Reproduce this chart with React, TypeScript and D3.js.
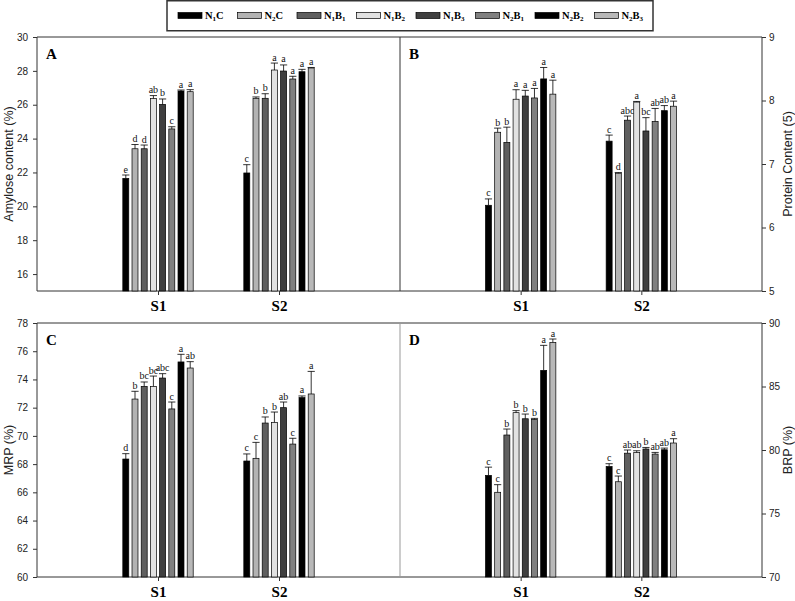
import React, { useEffect, useRef } from 'react';
import * as d3 from 'd3';

const categories = ['S1', 'S2'];
const treatments = ['N1C', 'N2C', 'N1B1', 'N1B2', 'N1B3', 'N2B1', 'N2B2', 'N2B3'];
const fills = ['#000000', '#b3b3b3', '#5f5f5f', '#e2e2e2', '#3f3f3f', '#808080', '#000000', '#b8b8b8'];

// A: amylose content (%)
const amyloseS1 = [21.65, 23.4, 23.4, 26.36, 26.02, 24.57, 26.81, 26.77];
const amyloseS2 = [21.97, 26.38, 26.38, 28.05, 27.99, 27.52, 27.95, 28.17];
const amyloseErrS1 = [0.2, 0.25, 0.22, 0.18, 0.32, 0.13, 0.06, 0.12];
const amyloseErrS2 = [0.49, 0.08, 0.27, 0.41, 0.36, 0.16, 0.14, 0.03];
const amyloseLetS1 = ['e', 'd', 'd', 'ab', 'b', 'c', 'a', 'a'];
const amyloseLetS2 = ['c', 'b', 'b', 'a', 'a', 'a', 'a', 'a'];

// B: protein content
const proteinS1 = [6.35, 7.5, 7.34, 8.02, 8.07, 8.04, 8.34, 8.1];
const proteinS2 = [7.36, 6.855, 7.69, 7.975, 7.52, 7.67, 7.84, 7.91];
const proteinErrS1 = [0.1, 0.065, 0.24, 0.15, 0.09, 0.15, 0.18, 0.22];
const proteinErrS2 = [0.095, 0.01, 0.065, 0.01, 0.21, 0.205, 0.08, 0.08];
const proteinLetS1 = ['c', 'b', 'b', 'a', 'a', 'a', 'a', 'a'];
const proteinLetS2 = ['c', 'd', 'abc', 'a', 'bc', 'ab', 'ab', 'a'];

// C: MRP (%)
const mrpS1 = [68.36, 72.61, 73.51, 73.51, 74.1, 71.91, 75.24, 74.81];
const mrpS2 = [68.22, 68.41, 70.91, 70.96, 72.0, 69.42, 72.71, 72.97];
const mrpErrS1 = [0.38, 0.55, 0.31, 0.73, 0.31, 0.49, 0.54, 0.45];
const mrpErrS2 = [0.5, 1.13, 0.43, 0.73, 0.4, 0.41, 0.12, 1.6];
const mrpLetS1 = ['d', 'b', 'bc', 'bc', 'abc', 'c', 'a', 'ab'];
const mrpLetS2 = ['c', 'c', 'b', 'b', 'ab', 'c', 'a', 'a'];

// D: BRP (%)
const brpS1 = [78.0, 76.67, 81.18, 82.94, 82.46, 82.41, 86.27, 88.47];
const brpS2 = [78.7, 77.5, 79.75, 79.8, 80.08, 79.68, 80.02, 80.55];
const brpErrS1 = [0.65, 0.6, 0.47, 0.16, 0.37, 0.08, 1.97, 0.27];
const brpErrS2 = [0.22, 0.45, 0.25, 0.14, 0.12, 0.13, 0.13, 0.34];
const brpLetS1 = ['c', 'c', 'b', 'b', 'b', 'b', 'a', 'a'];
const brpLetS2 = ['c', 'c', 'ab', 'ab', 'b', 'ab', 'ab', 'a'];

const SANS = '"Liberation Sans", Arial, sans-serif';
const SERIF = '"Liberation Serif", "Times New Roman", serif';

interface Panel {
  tag: string;
  title: string;
  side: 'left' | 'right';
  box: [number, number, number, number];
  domain: [number, number];
  ticks: number[];
  means: number[][];
  errs: number[][];
  letters: string[][];
  titleX: number;
}

const panels: Panel[] = [
  { tag: 'A', title: 'Amylose content (%)', side: 'left', box: [37, 400, 37, 291], domain: [15, 30],
    ticks: d3.range(16, 31, 2), means: [amyloseS1, amyloseS2], errs: [amyloseErrS1, amyloseErrS2],
    letters: [amyloseLetS1, amyloseLetS2], titleX: 9 },
  { tag: 'B', title: 'Protein Content (5)', side: 'right', box: [400, 762, 37, 291], domain: [5, 9],
    ticks: d3.range(5, 10, 1), means: [proteinS1, proteinS2], errs: [proteinErrS1, proteinErrS2],
    letters: [proteinLetS1, proteinLetS2], titleX: 788 },
  { tag: 'C', title: 'MRP (%)', side: 'left', box: [37, 400, 323, 577], domain: [60, 78],
    ticks: d3.range(60, 79, 2), means: [mrpS1, mrpS2], errs: [mrpErrS1, mrpErrS2],
    letters: [mrpLetS1, mrpLetS2], titleX: 9 },
  { tag: 'D', title: 'BRP (%)', side: 'right', box: [400, 762, 323, 577], domain: [70, 90],
    ticks: d3.range(70, 91, 5), means: [brpS1, brpS2], errs: [brpErrS1, brpErrS2],
    letters: [brpLetS1, brpLetS2], titleX: 788 },
];

export default function App() {
  const ref = useRef<SVGSVGElement>(null);

  useEffect(() => {
    if (!ref.current) return;
    const svg = d3.select(ref.current);
    svg.selectAll('*').remove();

    panels.forEach((p) => {
      const [x0, x1, y0, y1] = p.box;
      const g = svg.append('g');
      const x = d3.scalePoint<string>().domain(categories).range([x0, x1]).padding(1);
      const y = d3.scaleLinear().domain(p.domain).range([y1, y0]);
      const band = d3.scaleBand<string>().domain(treatments).range([-36.8, 36.8])
        .paddingInner(0.35).paddingOuter(0.175);

      // frame: top, bottom and the value-axis side
      g.append('line').attr('x1', x0).attr('x2', x1).attr('y1', y0).attr('y2', y0).attr('stroke', '#333');
      g.append('line').attr('x1', x0).attr('x2', x1).attr('y1', y1).attr('y2', y1).attr('stroke', '#333');
      const ax = p.side === 'left' ? x0 : x1;
      g.append('line').attr('x1', ax).attr('x2', ax).attr('y1', y0).attr('y2', y1).attr('stroke', '#333');

      // value axis
      const yAxis = (p.side === 'left' ? d3.axisLeft(y) : d3.axisRight(y))
        .tickValues(p.ticks).tickSize(4).tickPadding(p.side === 'left' ? 5 : 3).tickFormat(d3.format('d'));
      const ya = g.append('g').attr('transform', `translate(${ax},0)`).call(yAxis);
      ya.select('.domain').remove();
      ya.selectAll('line').attr('stroke', '#333');
      ya.selectAll('text').attr('font-family', SANS).attr('font-size', 10).attr('fill', '#222');

      // category axis
      const xa = g.append('g').attr('transform', `translate(0,${y1})`)
        .call(d3.axisBottom(x).tickSize(4).tickPadding(5));
      xa.select('.domain').remove();
      xa.selectAll('line').attr('stroke', '#333');
      xa.selectAll('text').attr('font-family', SERIF).attr('font-size', 15)
        .attr('font-weight', 'bold').attr('fill', '#000');

      // bars, error bars and letters
      categories.forEach((c, ci) => {
        const cx = x(c) as number;
        treatments.forEach((t, ti) => {
          const m = p.means[ci][ti];
          const e = p.errs[ci][ti];
          const bx = cx + (band(t) as number);
          const bw = band.bandwidth();
          g.append('rect')
            .attr('x', bx).attr('y', y(m)).attr('width', bw).attr('height', y1 - y(m))
            .attr('fill', fills[ti]).attr('stroke', '#000').attr('stroke-width', 0.7);
          const mid = bx + bw / 2;
          g.append('line').attr('x1', mid).attr('x2', mid).attr('y1', y(m)).attr('y2', y(m + e))
            .attr('stroke', '#000').attr('stroke-width', 0.8);
          g.append('line').attr('x1', mid - 3.6).attr('x2', mid + 3.6).attr('y1', y(m + e)).attr('y2', y(m + e))
            .attr('stroke', '#000').attr('stroke-width', 0.8);
          g.append('text').attr('x', mid).attr('y', y(m + e) - 2.5)
            .attr('text-anchor', 'middle').attr('font-family', SERIF).attr('font-size', 10)
            .attr('fill', '#111').text(p.letters[ci][ti]);
        });
      });

      // panel tag
      g.append('text').attr('x', x0 + 9).attr('y', y0 + 22)
        .attr('font-family', SERIF).attr('font-size', 15).attr('font-weight', 'bold').text(p.tag);

      // axis title
      const cy = (y0 + y1) / 2;
      g.append('text').attr('transform', `translate(${p.titleX},${cy}) rotate(-90)`)
        .attr('text-anchor', 'middle').attr('dominant-baseline', 'central')
        .attr('font-family', SANS).attr('font-size', 12.5).attr('fill', '#222').text(p.title);
    });

    // dividers between left and right panels
    svg.append('line').attr('x1', 400).attr('x2', 400).attr('y1', 37).attr('y2', 291).attr('stroke', '#333');
    svg.append('line').attr('x1', 400).attr('x2', 400).attr('y1', 323).attr('y2', 577).attr('stroke', '#999');

    // legend
    const lg = svg.append('g');
    lg.append('rect').attr('x', 167).attr('y', 0.75).attr('width', 486).attr('height', 30)
      .attr('fill', '#fff').attr('stroke', '#333').attr('stroke-width', 1.5);
    treatments.forEach((t, i) => {
      const sx = 178 + i * 59.5;
      lg.append('rect').attr('x', sx).attr('y', 12.5).attr('width', 24).attr('height', 6)
        .attr('fill', fills[i]).attr('stroke', '#000').attr('stroke-width', 0.7);
      const chars = t.split('');
      const txt = lg.append('text').attr('x', sx + 27).attr('y', 19)
        .attr('font-family', SERIF).attr('font-weight', 'bold').attr('font-size', 10.5);
      chars.forEach((ch, k) => {
        const dig = /\d/.test(ch);
        const prevDig = k > 0 && /\d/.test(chars[k - 1]);
        const dy = dig && !prevDig ? 2 : !dig && prevDig ? -2 : 0;
        txt.append('tspan').attr('dy', dy).attr('font-size', dig ? 7 : 10.5).text(ch);
      });
    });
  }, []);

  return (
    <svg ref={ref} width={795} height={601}
      style={{ position: 'absolute', left: 0, top: 0, background: '#fff' }} />
  );
}
